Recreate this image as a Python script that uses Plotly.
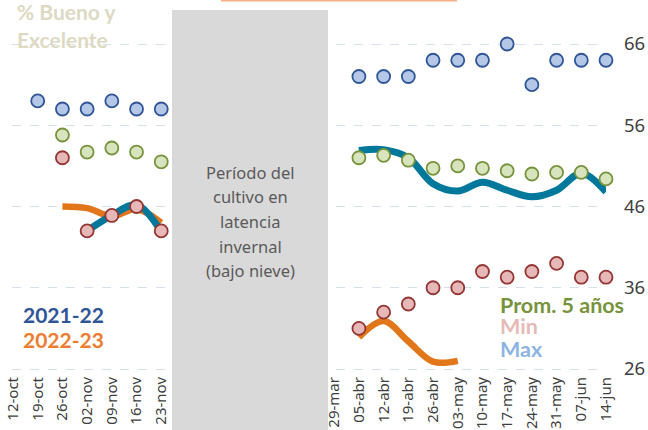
import plotly.graph_objects as go

# ---------------- data ----------------
categories = ["12-oct", "19-oct", "26-oct", "02-nov", "09-nov", "16-nov", "23-nov",
              "", "", "", "", "", "",
              "29-mar", "05-abr", "12-abr", "19-abr", "26-abr", "03-may", "10-may",
              "17-may", "24-may", "31-may", "07-jun", "14-jun"]
GAP = [None] * 6

max_vals = [None, 59, 58, 58, 59, 58, 58] + GAP + \
           [None, 62, 62, 62, 64, 64, 64, 66, 61, 64, 64, 64]
prom5_vals = [None, None, 54.8, 52.7, 53.2, 52.7, 51.5] + GAP + \
             [None, 52.0, 52.3, 51.7, 50.7, 51.0, 50.7, 50.4, 50.0, 50.2, 50.2, 49.4]
min_vals = [None, None, 52, 43, 44.9, 46, 43] + GAP + \
           [None, 31, 33, 34, 36, 36, 38, 37.3, 38, 39, 37.3, 37.3]
s2021_22 = [None, None, None, 43.0, 44.9, 46.2, 42.9] + GAP + \
           [None, 52.9, 53.0, 52.0, 48.8, 47.9, 49.0, 48.0, 47.2, 48.0, 50.1, 47.8]
s2022_23 = [None, None, 46.0, 45.8, 44.8, 45.7, 44.0] + GAP + \
           [None, 29.9, 31.9, 29.4, 26.9, 27.0, None, None, None, None, None, None]

y_ticks = [26, 36, 46, 56, 66]

x = list(range(len(categories)))

# ---------------- layout geometry (pixels) ----------------
W, H = 648, 430
ML, MR, MT, MB = 12, 42, 0, 57
PW, PH = W - ML - MR, H - MT - MB


def px(xp):
    return (xp - ML) / PW


def py(yp):
    return (H - MB - yp) / PH


FONT = "Lato"
FONT2 = "Noto Sans"

fig = go.Figure()

# lines
fig.add_trace(go.Scatter(x=x, y=s2022_23, mode="lines", name="2022-23",
                         line=dict(color="#E2761B", width=6.5, shape="spline", smoothing=1),
                         connectgaps=False, cliponaxis=False))
fig.add_trace(go.Scatter(x=x, y=s2021_22, mode="lines", name="2021-22",
                         line=dict(color="#00789C", width=7, shape="spline", smoothing=1),
                         connectgaps=False, cliponaxis=False))

# markers
def mk(vals, fill, border, name):
    fig.add_trace(go.Scatter(x=x, y=vals, mode="markers", name=name,
                             marker=dict(size=13, color=fill,
                                         line=dict(color=border, width=1.8)),
                             cliponaxis=False))

mk(max_vals, "#B4C7E7", "#2F5597", "Max")
mk(prom5_vals, "#D7E4BD", "#77933C", "Prom. 5 años")
mk(min_vals, "#E6B9B8", "#943634", "Min")

# x axis: index 0 at 13px, index 24 at 606px
step = (606 - 13) / 24
x_lo = (ML - 13) / step
x_hi = x_lo + PW / step

# y axis: 66 at 44px, 26 at 369px
ys = (369 - 44) / 40
y_hi = 66 + (44 - MT) / ys
y_lo = y_hi - PH / ys

shapes = [
    dict(type="rect", xref="paper", yref="paper",
         x0=px(172), x1=px(328), y0=py(431), y1=py(10),
         fillcolor="#D9D9D9", line=dict(width=0), layer="above"),
    dict(type="line", xref="paper", yref="paper",
         x0=px(221), x1=px(457), y0=py(0.5), y1=py(0.5),
         line=dict(color="#F4B183", width=2), layer="above"),
]

annotations = []


def txt(t, xp, yp, color, size, bold=False, xanchor="left", family=FONT, height=None):
    a = dict(
        text=f"<b>{t}</b>" if bold else t, xref="paper", yref="paper",
        x=px(xp), y=py(yp), xanchor=xanchor, yanchor="middle", showarrow=False,
        font=dict(family=family, size=size, color=color))
    if height:
        a["height"] = height
    annotations.append(a)


txt("% Bueno y", 15, 11, "#DDD9C3", 21, True)
txt("Excelente", 15, 40, "#DDD9C3", 21, True)

for i, line in enumerate(["Período del", "cultivo en", "latencia", "invernal", "(bajo nieve)"]):
    txt(line, 250, 172 + 24.7 * i, "#595959", 16.5, False, "center", FONT2)

txt("2021-22", 21, 314, "#2F5597", 21, True, height=22)
txt("2022-23", 21, 339, "#ED7D31", 21, True, height=22)
txt("Prom. 5 años", 498, 304, "#77933C", 21.5, True, height=19)
txt("Min", 498, 325, "#E6B9B8", 21.5, True, height=19)
txt("Max", 498, 348, "#8EB4E3", 21.5, True, height=19)

fig.update_layout(
    width=W, height=H,
    margin=dict(l=ML, r=MR, t=MT, b=MB, pad=0),
    paper_bgcolor="white", plot_bgcolor="white",
    showlegend=False,
    font=dict(family=FONT, color="#404040"),
    shapes=shapes, annotations=annotations,
    xaxis=dict(range=[x_lo, x_hi], tickmode="array", tickvals=x, ticktext=categories,
               tickangle=-90, tickfont=dict(size=15, color="#404040", family=FONT2),
               showgrid=False, zeroline=False, showline=False, ticks=""),
    yaxis=dict(range=[y_lo, y_hi], side="right", tickmode="array", tickvals=y_ticks,
               tickfont=dict(size=18.5, color="#404040", family=FONT2),
               showgrid=True, gridcolor="#D6DFEE", griddash="dash", gridwidth=1,
               zeroline=False, showline=False, ticks="", ticklabelstandoff=17),
)

fig.write_html("out.html",
               config={"displayModeBar": False},
               post_script="document.body.style.margin='0';"
                           "document.body.style.overflow='hidden';")
